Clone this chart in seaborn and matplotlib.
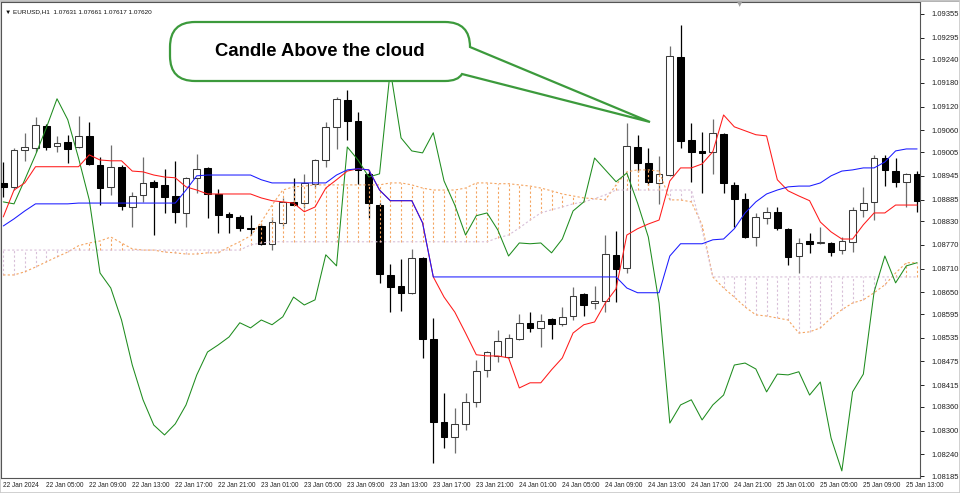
import numpy as np
import matplotlib
matplotlib.use("Agg")
import matplotlib.pyplot as plt
import matplotlib.path as mpath
import matplotlib.patches as mpatches
from matplotlib.transforms import Affine2D
import seaborn as sns

# EURUSD H1 bars
opens = [1.08927, 1.08917, 1.09011, 1.09016, 1.09071, 1.09021, 1.09031, 1.09018, 1.09046, 1.08973,
         1.08917, 1.08968, 1.08866, 1.08897, 1.08930, 1.08922, 1.08894, 1.08851, 1.08940, 1.08965,
         1.08899, 1.08849, 1.08841, 1.08813, 1.08818, 1.08773, 1.08826, 1.08879, 1.08876, 1.08925,
         1.08985, 1.09069, 1.09137, 1.09084, 1.08950, 1.08871, 1.08694, 1.08666, 1.08649, 1.08737,
         1.08532, 1.08322, 1.08284, 1.08317, 1.08373, 1.08454, 1.08489, 1.08487, 1.08532, 1.08573,
         1.08560, 1.08583, 1.08570, 1.08590, 1.08646, 1.08623, 1.08628, 1.08745, 1.08712, 1.09018,
         1.08978, 1.08927, 1.08947, 1.09246, 1.09036, 1.09008, 1.09006, 1.09051, 1.08922, 1.08887,
         1.08790, 1.08838, 1.08854, 1.08811, 1.08742, 1.08780, 1.08775, 1.08775, 1.08757, 1.08778,
         1.08859, 1.08879, 1.08990, 1.08957, 1.08930, 1.08950]
highs = [1.08980, 1.09016, 1.09054, 1.09094, 1.09076, 1.09046, 1.09049, 1.09097, 1.09082, 1.08993,
         1.09023, 1.08973, 1.08904, 1.08993, 1.08935, 1.08963, 1.08983, 1.08942, 1.09001, 1.08968,
         1.08912, 1.08854, 1.08846, 1.08846, 1.08823, 1.08841, 1.08889, 1.08940, 1.08950, 1.08988,
         1.09082, 1.09145, 1.09163, 1.09107, 1.08960, 1.08876, 1.08722, 1.08735, 1.08760, 1.08740,
         1.08585, 1.08395, 1.08357, 1.08395, 1.08479, 1.08502, 1.08555, 1.08545, 1.08595, 1.08600,
         1.08595, 1.08585, 1.08613, 1.08664, 1.08649, 1.08666, 1.08795, 1.08806, 1.09079, 1.09049,
         1.09016, 1.08995, 1.09274, 1.09327, 1.09079, 1.09056, 1.09089, 1.09054, 1.08930, 1.08902,
         1.08851, 1.08866, 1.08866, 1.08813, 1.08788, 1.08800, 1.08816, 1.08778, 1.08790, 1.08866,
         1.08917, 1.08998, 1.08998, 1.08990, 1.08952, 1.08957]
lows = [1.08892, 1.08909, 1.08983, 1.09006, 1.09011, 1.09006, 1.08978, 1.09016, 1.08973, 1.08871,
        1.08897, 1.08859, 1.08816, 1.08879, 1.08795, 1.08851, 1.08826, 1.08816, 1.08902, 1.08838,
        1.08800, 1.08800, 1.08806, 1.08795, 1.08770, 1.08757, 1.08818, 1.08871, 1.08864, 1.08914,
        1.08968, 1.09013, 1.09036, 1.08925, 1.08838, 1.08674, 1.08600, 1.08603, 1.08646, 1.08484,
        1.08218, 1.08256, 1.08243, 1.08302, 1.08360, 1.08436, 1.08474, 1.08484, 1.08530, 1.08550,
        1.08512, 1.08532, 1.08565, 1.08580, 1.08590, 1.08608, 1.08600, 1.08626, 1.08699, 1.08955,
        1.08922, 1.08874, 1.08945, 1.09016, 1.08930, 1.08902, 1.08950, 1.08902, 1.08816, 1.08788,
        1.08768, 1.08823, 1.08808, 1.08719, 1.08699, 1.08750, 1.08773, 1.08742, 1.08747, 1.08752,
        1.08841, 1.08833, 1.08919, 1.08917, 1.08866, 1.08854]
closes = [1.08917, 1.09011, 1.09018, 1.09074, 1.09018, 1.09028, 1.09013, 1.09046, 1.08975, 1.08914,
          1.08968, 1.08869, 1.08894, 1.08927, 1.08917, 1.08892, 1.08854, 1.08940, 1.08963, 1.08899,
          1.08846, 1.08841, 1.08813, 1.08811, 1.08773, 1.08828, 1.08879, 1.08872, 1.08927, 1.08985,
          1.09069, 1.09140, 1.09084, 1.08960, 1.08876, 1.08697, 1.08664, 1.08649, 1.08737, 1.08532,
          1.08322, 1.08284, 1.08317, 1.08373, 1.08451, 1.08499, 1.08527, 1.08535, 1.08573, 1.08560,
          1.08578, 1.08570, 1.08588, 1.08641, 1.08618, 1.08628, 1.08747, 1.08709, 1.09021, 1.08978,
          1.08930, 1.08950, 1.09249, 1.09033, 1.09006, 1.09003, 1.09054, 1.08927, 1.08887, 1.08790,
          1.08841, 1.08854, 1.08813, 1.08740, 1.08775, 1.08773, 1.08776, 1.08752, 1.08780, 1.08859,
          1.08876, 1.08990, 1.08960, 1.08930, 1.08950, 1.08882]

# Ichimoku lines
tenkan = [1.08841, 1.08909, 1.08927, 1.08968, 1.08968, 1.08968, 1.08968, 1.08968, 1.08998, 1.08985,
          1.08983, 1.08983, 1.08957, 1.08955, 1.08947, 1.08942, 1.08940, 1.08917, 1.08909, 1.08899,
          1.08899, 1.08899, 1.08899, 1.08899, 1.08889, 1.08882, 1.08879, 1.08876, 1.08854, 1.08866,
          1.08914, 1.08935, 1.08957, 1.08963, 1.08960, 1.08909, 1.08882, 1.08882, 1.08882, 1.08826,
          1.08689, 1.08638, 1.08600, 1.08547, 1.08492, 1.08489, 1.08489, 1.08484, 1.08408, 1.08421,
          1.08421, 1.08454, 1.08484, 1.08547, 1.08568, 1.08575, 1.08623, 1.08659, 1.08795, 1.08811,
          1.08823, 1.08833, 1.08932, 1.08965, 1.08965, 1.08975, 1.09006, 1.09099, 1.09069, 1.09059,
          1.09049, 1.09046, 1.08935, 1.08907, 1.08894, 1.08882, 1.08828, 1.08803, 1.08785, 1.08785,
          1.08821, 1.08851, 1.08851, 1.08871, 1.08871, 1.08871]
kijun = [1.08818, 1.08836, 1.08856, 1.08874, 1.08874, 1.08874, 1.08874, 1.08876, 1.08876, 1.08876,
         1.08876, 1.08876, 1.08876, 1.08876, 1.08876, 1.08876, 1.08876, 1.08909, 1.08945, 1.08947,
         1.08947, 1.08947, 1.08947, 1.08947, 1.08935, 1.08927, 1.08927, 1.08927, 1.08927, 1.08927,
         1.08927, 1.08947, 1.08960, 1.08963, 1.08960, 1.08909, 1.08882, 1.08882, 1.08882, 1.08826,
         1.08689, 1.08689, 1.08689, 1.08689, 1.08689, 1.08689, 1.08689, 1.08689, 1.08689, 1.08689,
         1.08689, 1.08689, 1.08689, 1.08689, 1.08689, 1.08689, 1.08689, 1.08689, 1.08661, 1.08649,
         1.08649, 1.08649, 1.08742, 1.08773, 1.08773, 1.08773, 1.08783, 1.08785, 1.08811, 1.08851,
         1.08879, 1.08899, 1.08909, 1.08917, 1.08919, 1.08919, 1.08927, 1.08945, 1.08957, 1.08960,
         1.08965, 1.08965, 1.08980, 1.09008, 1.09013, 1.09013]
chikou = [1.08879, 1.08874, 1.08935, 1.08998, 1.09066, 1.09140, 1.09087, 1.08990, 1.08884, 1.08699,
          1.08661, 1.08580, 1.08466, 1.08378, 1.08314, 1.08289, 1.08317, 1.08365, 1.08441, 1.08499,
          1.08517, 1.08537, 1.08573, 1.08560, 1.08580, 1.08568, 1.08588, 1.08638, 1.08618, 1.08631,
          1.08745, 1.08717, 1.09018, 1.08985, 1.08942, 1.08950, 1.09213, 1.09041, 1.09008, 1.09003,
          1.09054, 1.08932, 1.08871, 1.08795, 1.08844, 1.08851, 1.08808, 1.08742, 1.08775, 1.08773,
          1.08775, 1.08750, 1.08785, 1.08856, 1.08879, 1.08990, 1.08960, 1.08930, 1.08952, 1.08876,
          1.08790, 1.08623, 1.08319, 1.08365, 1.08378, 1.08327, 1.08365, 1.08390, 1.08466, 1.08471,
          1.08456, 1.08398, 1.08443, 1.08441, 1.08449, 1.08390, 1.08423, 1.08281, 1.08198, 1.08398,
          1.08443, 1.08651, 1.08742, 1.08674, 1.08717, 1.08725]
span_a = [1.08694, 1.08694, 1.08702, 1.08714, 1.08727, 1.08740, 1.08752, 1.08768, 1.08775, 1.08780,
          1.08790, 1.08775, 1.08760, 1.08757, 1.08757, 1.08752, 1.08750, 1.08747, 1.08747, 1.08750,
          1.08750, 1.08765, 1.08778, 1.08793, 1.08828, 1.08871, 1.08909, 1.08917, 1.08919, 1.08922,
          1.08922, 1.08922, 1.08922, 1.08922, 1.08922, 1.08922, 1.08927, 1.08927, 1.08922, 1.08914,
          1.08909, 1.08909, 1.08909, 1.08914, 1.08927, 1.08927, 1.08925, 1.08925, 1.08922, 1.08919,
          1.08914, 1.08907, 1.08899, 1.08894, 1.08889, 1.08887, 1.08884, 1.08922, 1.08955, 1.08960,
          1.08960, 1.08957, 1.08884, 1.08884, 1.08879, 1.08821, 1.08689, 1.08661, 1.08638, 1.08613,
          1.08593, 1.08590, 1.08585, 1.08580, 1.08547, 1.08550, 1.08560, 1.08585, 1.08606, 1.08623,
          1.08631, 1.08649, 1.08669, 1.08699, 1.08725, 1.08725]
span_b = [1.08757, 1.08757, 1.08757, 1.08757, 1.08757, 1.08757, 1.08757, 1.08757, 1.08757, 1.08757,
          1.08757, 1.08757, 1.08757, 1.08757, 1.08757, 1.08757, 1.08757, 1.08757, 1.08757, 1.08757,
          1.08757, 1.08757, 1.08757, 1.08770, 1.08775, 1.08778, 1.08778, 1.08778, 1.08778, 1.08778,
          1.08778, 1.08778, 1.08778, 1.08778, 1.08778, 1.08778, 1.08778, 1.08778, 1.08778, 1.08778,
          1.08778, 1.08778, 1.08778, 1.08778, 1.08778, 1.08778, 1.08788, 1.08795, 1.08813, 1.08833,
          1.08851, 1.08859, 1.08866, 1.08874, 1.08879, 1.08887, 1.08897, 1.08909, 1.08909, 1.08909,
          1.08909, 1.08909, 1.08909, 1.08909, 1.08909, 1.08808, 1.08689, 1.08689, 1.08689, 1.08689,
          1.08689, 1.08689, 1.08689, 1.08689, 1.08689, 1.08689, 1.08689, 1.08689, 1.08689, 1.08689,
          1.08689, 1.08689, 1.08689, 1.08689, 1.08689, 1.08689]

price_ticks = [1.09355, 1.09295, 1.09240, 1.09180, 1.09120, 1.09060, 1.09005, 1.08945, 1.08885,
               1.08830, 1.08770, 1.08710, 1.08650, 1.08595, 1.08535, 1.08475, 1.08415, 1.08360,
               1.08300, 1.08240, 1.08185]
time_labels = ["22 Jan 2024", "22 Jan 05:00", "22 Jan 09:00", "22 Jan 13:00", "22 Jan 17:00",
               "22 Jan 21:00", "23 Jan 01:00", "23 Jan 05:00", "23 Jan 09:00", "23 Jan 13:00",
               "23 Jan 17:00", "23 Jan 21:00", "24 Jan 01:00", "24 Jan 05:00", "24 Jan 09:00",
               "24 Jan 13:00", "24 Jan 17:00", "24 Jan 21:00", "25 Jan 01:00", "25 Jan 05:00",
               "25 Jan 09:00", "25 Jan 13:00"]
header = "\u25bc EURUSD,H1  1.07631 1.07661 1.07617 1.07620"
callout = "Candle Above the cloud"

sns.set_style("white")
plt.rcParams["font.family"] = ["Liberation Sans", "DejaVu Sans"]

W, H = 960, 493
fig = plt.figure(figsize=(W / 100, H / 100), dpi=100)
fig.patch.set_facecolor("white")
ax = fig.add_axes([1 / W, 15 / H, 919 / W, 476 / H])

bars = np.arange(len(opens))
o, h, l, c = map(np.array, (opens, highs, lows, closes))
a, b = np.array(span_a), np.array(span_b)

# candles
up = c >= o
wick_col = np.where(up, "#6e6e6e", "black")
ax.vlines(bars, l, h, colors=wick_col, lw=0.9, zorder=2)
body_lo = np.minimum(o, c)
body_h = np.maximum(np.abs(c - o), 0.000012)
ax.bar(bars[up], body_h[up], bottom=body_lo[up], width=0.62, color="white",
       edgecolor="#3a3a3a", linewidth=0.75, zorder=3)
ax.bar(bars[~up], body_h[~up], bottom=body_lo[~up], width=0.62, color="black",
       edgecolor="black", linewidth=0.75, zorder=3)

# kumo hatch + spans
dots = (0, (2, 2))
for i in bars:
    col = "#f4a460" if a[i] >= b[i] else "#d8bfd8"
    ax.vlines(i, min(a[i], b[i]), max(a[i], b[i]), colors=col, lw=0.8,
              linestyles=dots, zorder=4)
sns.lineplot(x=bars, y=a, ax=ax, color="#f4a460", lw=0.8, linestyle=dots, zorder=4)
sns.lineplot(x=bars, y=b, ax=ax, color="#d8bfd8", lw=0.8, linestyle=dots, zorder=4)

sns.lineplot(x=bars, y=chikou, ax=ax, color="#1e8c1e", lw=0.75, zorder=5)
sns.lineplot(x=bars, y=tenkan, ax=ax, color="#ff1a1a", lw=0.75, zorder=5)
sns.lineplot(x=bars, y=kijun, ax=ax, color="#1a1aff", lw=0.75, zorder=5)

ax.set_xlim(-0.21, 85.27)
ax.set_ylim(1.08180, 1.09385)
ax.set_xlabel("")
ax.set_ylabel("")

ax.yaxis.tick_right()
ax.set_yticks(price_ticks)
ax.set_yticklabels([f"{p:.5f}" for p in price_ticks])
ax.tick_params(axis="y", direction="out", length=3, width=0.7, pad=5,
               labelsize=5.5, colors="#202020")
ax.set_xticks(bars[::4][:len(time_labels)])
ax.set_xticklabels(time_labels, ha="left")
ax.tick_params(axis="x", direction="in", length=3, width=0.7, pad=3,
               labelsize=4.7, colors="#202020")
for s in ax.spines.values():
    s.set_color("#555555")
    s.set_linewidth(0.8)

# header text, top strip and window frame
fig.text(5 / W, 1 - 12 / H, header, fontsize=4.6, va="center", color="#101010")
fig.add_artist(mpatches.Rectangle((0, 1 - 2 / H), 1, 2 / H, transform=fig.transFigure,
                                  color="#b4b4b4", lw=0))
fig.add_artist(mpatches.Rectangle((0, 0), 1, 1, transform=fig.transFigure, fill=False,
                                  edgecolor="#c8c8c8", lw=1.2))
fig.text(740 / W, 1 - 4 / H, "\u25bc", fontsize=5, color="#a0a0a0", ha="center", va="center",
         family=["DejaVu Sans"])

# callout bubble in pixel coords (y down)
px = Affine2D().scale(1 / 100, -1 / 100).translate(0, H / 100) + fig.dpi_scale_trans
P = mpath.Path
verts = [(195, 22), (445, 22), (470, 22), (470, 47), (650, 122), (462, 74), (458, 81),
         (445, 81), (195, 81), (170, 81), (170, 56), (170, 47), (170, 22), (195, 22), (195, 22)]
codes = [P.MOVETO, P.LINETO, P.CURVE3, P.CURVE3, P.LINETO, P.LINETO, P.CURVE3, P.CURVE3,
         P.LINETO, P.CURVE3, P.CURVE3, P.LINETO, P.CURVE3, P.CURVE3, P.CLOSEPOLY]
bubble = mpatches.PathPatch(P(verts, codes), transform=px, facecolor="white",
                            edgecolor="#3c9a3c", lw=1.6, zorder=10)
fig.add_artist(bubble)
fig.text(320 / W, 1 - 51 / H, callout, fontsize=13.3, fontweight="bold",
         ha="center", va="center", color="black", zorder=11)

fig.savefig("out.png", dpi=100, facecolor="white")
